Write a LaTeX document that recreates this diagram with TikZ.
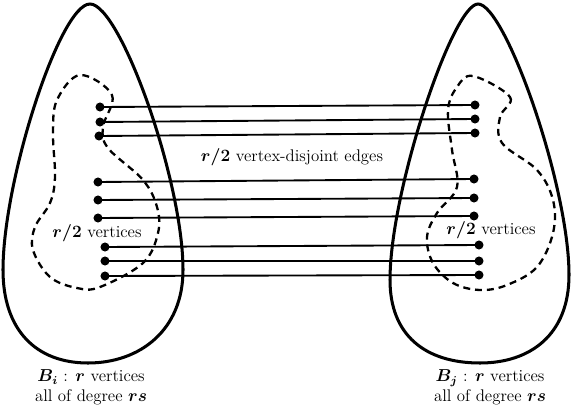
\documentclass[tikz,border=0pt]{standalone}
\usepackage{amsmath,bm}
\usepackage{tikz}
\usetikzlibrary{arrows.meta,positioning}
\tikzset{blob/.style={line width=2.1pt},half/.style={dashed,line width=1.6pt,dash pattern=on 1.7mm off 1.2mm},dot/.style={circle,fill=black,inner sep=0pt,minimum size=2.2mm},edge/.style={line width=1.3pt},lbl/.style={align=center,inner sep=1pt,font=\fontsize{11.7pt}{13.6pt}\selectfont}}

\begin{document}
\begin{tikzpicture}[x=0.0244cm,y=-0.0244cm]
\useasboundingbox (0,0) rectangle (575,407);
% the two blocks
\draw[blob] (90,4) .. controls (120,4) and (183,180) .. (183,270) .. controls (183,330) and (140,363) .. (88,363) .. controls (36,363) and (3,330) .. (3,270) .. controls (3,180) and (60,4) .. (90,4) -- cycle;
\draw[blob] (478,4) .. controls (505,4) and (569,185) .. (569,275) .. controls (569,335) and (530,363) .. (480,363) .. controls (425,363) and (390,335) .. (390,280) .. controls (390,190) and (453,4) .. (478,4) -- cycle;
% the two halves
\draw[half] plot[smooth cycle,tension=0.6] coordinates {(80,75) (112,95) (103,127) (108,148) (143,180) (157,207) (158,233) (143,263) (100,287) (77,288) (50,277) (33,250) (35,227) (50,203) (55,177) (53,133) (57,100)};
\draw[half] plot[smooth cycle,tension=0.6] coordinates {(473,76) (510,97) (500,117) (502,143) (537,170) (553,200) (553,233) (537,267) (507,285) (480,290) (453,283) (433,263) (427,237) (437,213) (457,187) (452,150) (448,110) (457,87)};
% end points
\node[dot] (l1) at (100,107) {};\node[dot] (l2) at (100,122) {};\node[dot] (l3) at (99,136) {};
\node[dot] (l4) at (98,182) {};\node[dot] (l5) at (98,200) {};\node[dot] (l6) at (98,218) {};
\node[dot] (l7) at (105,247) {};\node[dot] (l8) at (105,261) {};\node[dot] (l9) at (105,276) {};
\node[dot] (r1) at (475,105) {};\node[dot] (r2) at (475,119) {};\node[dot] (r3) at (475,133) {};
\node[dot] (r4) at (474,179) {};\node[dot] (r5) at (474,198) {};\node[dot] (r6) at (474,216) {};
\node[dot] (r7) at (479,245) {};\node[dot] (r8) at (479,261) {};\node[dot] (r9) at (479,275) {};
\draw[edge] (l1.center)--(r1.center);\draw[edge] (l2.center)--(r2.center);\draw[edge] (l3.center)--(r3.center);
\draw[edge] (l4.center)--(r4.center);\draw[edge] (l5.center)--(r5.center);\draw[edge] (l6.center)--(r6.center);
\draw[edge] (l7.center)--(r7.center);\draw[edge] (l8.center)--(r8.center);\draw[edge] (l9.center)--(r9.center);
% labels
\node[lbl] (match) at (292,157) {$\bm{r/2}$ vertex-disjoint edges};
\node[lbl] (lhalf) at (97,233) {$\bm{r/2}$ vertices};
\node[lbl] (rhalf) at (491,230) {$\bm{r/2}$ vertices};
\node[lbl] (lname) at (91,387) {$\bm{B_i}$ : $\bm{r}$ vertices\\all of degree $\bm{rs}$};
\node[lbl] (rname) at (490,387) {$\bm{B_j}$ : $\bm{r}$ vertices\\all of degree $\bm{rs}$};
\end{tikzpicture}
\end{document}
